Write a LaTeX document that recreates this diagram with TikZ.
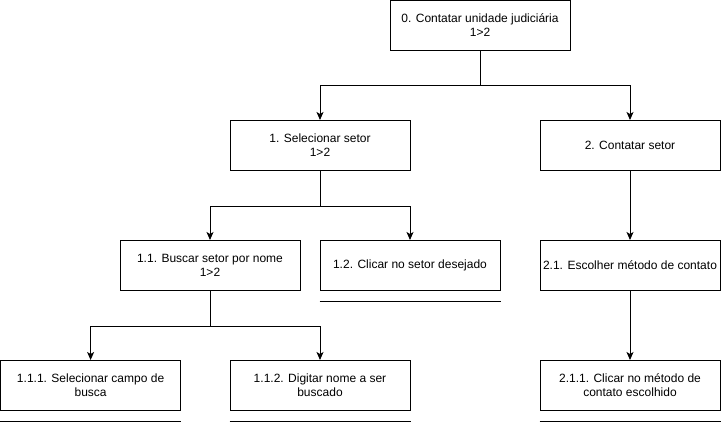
\documentclass[tikz,border=0pt]{standalone}
\usepackage{fontspec}
\setmainfont{Liberation Sans}
\usetikzlibrary{arrows.meta}
\begin{document}
\begin{tikzpicture}[x=1pt,y=-1pt,
  task/.style={draw=black,line width=1pt,minimum width=180pt,minimum height=50pt,inner sep=0pt,align=center,font=\fontsize{12}{14}\selectfont},
  conn/.style={draw=black,line width=1pt,-{Stealth[length=8pt,width=7pt,inset=2pt]}},
  uline/.style={draw=black,line width=1pt}]
\useasboundingbox (0,0) rectangle (722,422);
\node[task] (n0) at (480,25.5) {0. Contatar unidade judiciária\\1>2};
\node[task] (n1) at (320,145.5) {1. Selecionar setor\\1>2};
\node[task] (n2) at (630,145.5) {2. Contatar setor};
\node[task] (n11) at (210,265.5) {1.1. Buscar setor por nome\\1>2};
\node[task] (n12) at (410,265.5) {1.2. Clicar no setor desejado};
\node[task] (n21) at (630,265.5) {2.1. Escolher método de contato};
\node[task] (n111) at (90.6,385.5) {1.1.1. Selecionar campo de\\busca};
\node[task] (n112) at (320,385.5) {1.1.2. Digitar nome a ser\\buscado};
\node[task] (n211) at (630,385.5) {2.1.1. Clicar no método de\\contato escolhido};
\draw[conn] (n0.south) |- ++(0,35) -| (n1.north);
\draw[conn] (n0.south) |- ++(0,35) -| (n2.north);
\draw[conn] (n1.south) |- ++(0,35) -| (n11.north);
\draw[conn] (n1.south) |- ++(0,35) -| (n12.north);
\draw[conn] (n11.south) |- ++(0,35) -| (n111.north);
\draw[conn] (n11.south) |- ++(0,35) -| (n112.north);
\draw[conn] (n2.south) -- (n21.north);
\draw[conn] (n21.south) -- (n211.north);
\draw[uline] ([yshift=-10pt]n12.south west) -- ([yshift=-10pt]n12.south east);
\draw[uline] ([yshift=-10pt]n111.south west) -- ([yshift=-10pt]n111.south east);
\draw[uline] ([yshift=-10pt]n112.south west) -- ([yshift=-10pt]n112.south east);
\draw[uline] ([yshift=-10pt]n211.south west) -- ([yshift=-10pt]n211.south east);
\end{tikzpicture}
\end{document}
